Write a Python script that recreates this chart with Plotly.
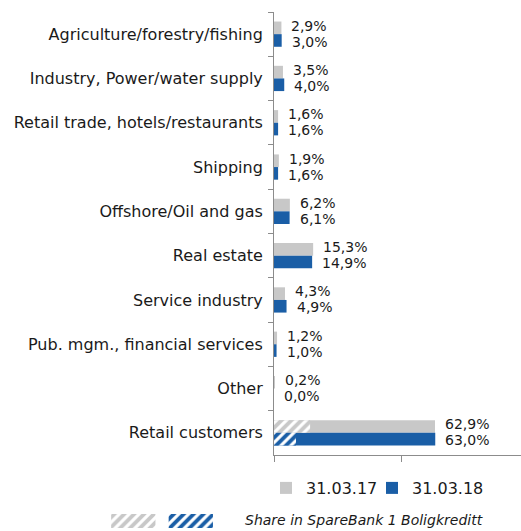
import plotly.graph_objects as go

categories = [
    "Agriculture/forestry/fishing",
    "Industry, Power/water supply",
    "Retail trade, hotels/restaurants",
    "Shipping",
    "Offshore/Oil and gas",
    "Real estate",
    "Service industry",
    "Pub. mgm., financial services",
    "Other",
    "Retail customers",
]
values_2017 = [2.9, 3.5, 1.6, 1.9, 6.2, 15.3, 4.3, 1.2, 0.2, 62.9]
values_2018 = [3.0, 4.0, 1.6, 1.6, 6.1, 14.9, 4.9, 1.0, 0.0, 63.0]
share_category = ["Retail customers"]
share_2017 = [14.1]
share_2018 = [8.6]
series_names = ["31.03.17", "31.03.18"]
share_label = "Share in SpareBank 1 Boligkreditt"

GRAY = "#C8C8C8"
BLUE = "#1A5EA6"
AXIS = "#8C8C8C"
TXT = "#1A1A1A"
FONT = "DejaVu Sans"

W, H = 521, 531
TOP = 12
PLOT_H = H - TOP


def fmt(v):
    return f"{v:.1f}".replace(".", ",") + "%"


fig = go.Figure()

fig.add_trace(go.Bar(
    y=categories, x=values_2017, orientation="h", name=series_names[0],
    marker=dict(color=GRAY, line=dict(width=0)), offsetgroup="a",
    legend="legend",
))
fig.add_trace(go.Bar(
    y=categories, x=values_2018, orientation="h", name=series_names[1],
    marker=dict(color=BLUE, line=dict(width=0)), offsetgroup="b",
    legend="legend2",
))
# hatched share portions
fig.add_trace(go.Bar(
    y=share_category, x=share_2017, orientation="h", showlegend=False,
    marker=dict(color=GRAY, line=dict(width=0),
                pattern=dict(shape="/", fgcolor=GRAY, bgcolor="white", size=7, solidity=0.55)),
    offsetgroup="a", hoverinfo="skip",
))
fig.add_trace(go.Bar(
    y=share_category, x=share_2018, orientation="h", showlegend=False,
    marker=dict(color=BLUE, line=dict(width=0),
                pattern=dict(shape="/", fgcolor=BLUE, bgcolor="white", size=7, solidity=0.55)),
    offsetgroup="b", hoverinfo="skip",
))

# legend key for the hatched share (mini axis)
fig.add_trace(go.Bar(
    x=[0, 1], y=[1, 1], width=0.77, xaxis="x2", yaxis="y2", showlegend=False,
    marker=dict(color=[GRAY, BLUE], line=dict(width=0),
                pattern=dict(shape="/", fgcolor=[GRAY, BLUE], bgcolor="white", size=7, solidity=0.55)),
    hoverinfo="skip",
))

# value labels (placed from the data through the axes)
annotations = []
for cat, v17, v18 in zip(categories, values_2017, values_2018):
    for v, ys in ((v17, 8.5), (v18, -7.5)):
        annotations.append(dict(
            x=v, y=cat, xref="x", yref="y", text=fmt(v), showarrow=False,
            xanchor="left", yanchor="middle", xshift=8, yshift=ys,
            font=dict(family=FONT, size=14, color=TXT),
        ))
annotations.append(dict(
    text="<i>" + share_label + "</i>", xref="paper", yref="paper",
    x=243 / W, y=(H - 520) / PLOT_H, xanchor="left", yanchor="middle",
    showarrow=False, font=dict(family=FONT, size=14, color=TXT),
))

x0 = 274 / W
legend_common = dict(
    orientation="h", xanchor="left", yanchor="middle",
    y=(H - 488) / PLOT_H, font=dict(family=FONT, size=16, color=TXT),
    bgcolor="rgba(0,0,0,0)", itemwidth=30,
)
fig.update_layout(
    width=W, height=H,
    template="none",
    paper_bgcolor="white", plot_bgcolor="white",
    margin=dict(l=0, r=0, t=TOP, b=0),
    barmode="group", bargap=0.43, bargroupgap=0,
    font=dict(family=FONT, color=TXT),
    xaxis=dict(
        domain=[x0, 1], range=[0, 96.5], tickvals=[0, 50], ticks="outside",
        ticklen=6, tickcolor=AXIS, showticklabels=False, showline=True,
        linecolor=AXIS, linewidth=1, showgrid=False, zeroline=False,
        anchor="y",
    ),
    yaxis=dict(
        domain=[(H - 455) / PLOT_H, 1], type="category",
        categoryorder="array", categoryarray=categories, autorange="reversed",
        tickson="boundaries", ticks="outside", ticklen=5, tickcolor=AXIS,
        showline=True, linecolor=AXIS, linewidth=1, showgrid=False,
        tickfont=dict(family=FONT, size=16, color=TXT), ticklabelstandoff=7,
        anchor="x",
    ),
    xaxis2=dict(
        domain=[(112 - 0.115 * 65) / W, (112 - 0.115 * 65 + 1.77 * 65) / W],
        range=[-0.5, 1.5], visible=False, anchor="y2",
    ),
    yaxis2=dict(
        domain=[(H - 528) / PLOT_H, (H - 514) / PLOT_H], range=[0, 1],
        visible=False, anchor="x2",
    ),
    legend=dict(x=266 / W, **legend_common),
    legend2=dict(x=372 / W, **legend_common),
    annotations=annotations,
    showlegend=True,
)

fig.write_html(
    "out.html",
    config={"displayModeBar": False},
    post_script="document.body.style.margin='0';document.body.style.overflow='hidden';",
)
